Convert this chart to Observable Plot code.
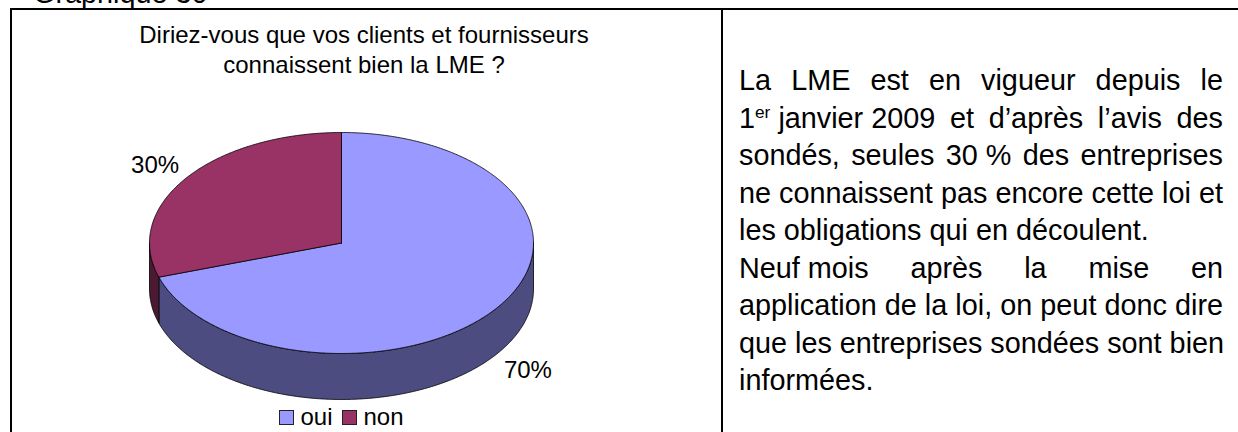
<!DOCTYPE html>
<html><head><meta charset="utf-8">
<script src="https://cdn.jsdelivr.net/npm/d3@7"></script>
<script src="https://cdn.jsdelivr.net/npm/@observablehq/plot@0.6"></script>
<style>
html,body{margin:0;padding:0;background:#fff;}
body{width:1238px;height:432px;overflow:hidden;position:relative;font-family:"Liberation Sans",Arial,sans-serif;color:#000;}
#chart{position:absolute;left:0;top:0;}
#chart svg{background:transparent;max-width:none;}
.frame{position:absolute;left:10px;top:8px;width:1300px;height:500px;border-left:2px solid #000;border-top:2px solid #000;}
.divider{position:absolute;left:721px;top:8px;width:2px;height:430px;background:#000;}
.heading{position:absolute;left:33px;top:-25px;font-size:28.8px;line-height:37.5px;white-space:nowrap;}
.title{position:absolute;left:64px;width:600px;top:20px;text-align:center;font-size:24px;line-height:30px;}
.legend{position:absolute;left:0;width:683px;top:405px;text-align:center;font-size:24px;line-height:24px;white-space:nowrap;}
.legend .item{display:inline-block;margin:0 5px;}
.legend .sw{display:inline-block;width:13px;height:13px;border:1px solid #222;margin-right:6px;vertical-align:baseline;}
.para{position:absolute;left:739px;width:484px;top:62px;font-size:28.8px;line-height:37.5px;}
.para .ln{white-space:nowrap;text-align:justify;text-align-last:justify;}
.para .ln.left{text-align:left;text-align-last:left;}
.para .nb{display:inline-block;}
.para sup{font-size:0.6em;line-height:0;vertical-align:0.6em;}
</style></head><body>
<div id="chart"></div>
<div class="frame"></div>
<div class="divider"></div>
<div class="heading" id="heading"></div>
<div class="title" id="title"></div>
<div class="legend" id="legend"></div>
<div class="para" id="para"></div>
<script>
const headingText = "Graphique 30";
const chartTitle = ["Diriez-vous que vos clients et fournisseurs", "connaissent bien la LME ?"];
const categories = ["oui", "non"];
const values = [70, 30];
const valueLabels = ["70%", "30%"];
const topColors = ["#9999FF", "#993366"];
const sideColors = ["#4C4C80", "#4C1933"];
const paragraphLines = [
  "La LME est en vigueur depuis le",
  "<span class='nb'>1<sup>er</sup>\u00a0janvier 2009</span> et d’après l’avis des",
  "sondés, seules <span class='nb'>30\u00a0%</span> des entreprises",
  "ne connaissent pas encore cette loi et",
  "les obligations qui en découlent.",
  "<span class='nb'>Neuf mois</span> après la mise en",
  "application de la loi, on peut donc dire",
  "que les entreprises sondées sont bien",
  "informées."
];
const lineJustified = [true, true, true, true, false, true, true, true, false];

document.getElementById("heading").textContent = headingText;
document.getElementById("title").innerHTML = chartTitle.join("<br>");

// pie geometry (unit ellipse, y grows downward; depth in y units)
const total = d3.sum(values);
const depth = 46 / 110.5;
let acc = 0;
const slices = values.map((v, i) => {
  const a0 = acc / total * 2 * Math.PI; acc += v;
  const a1 = acc / total * 2 * Math.PI;
  return {i, a0, a1};
});
const pt = (a, dz = 0) => ({x: Math.sin(a), y: -Math.cos(a) + dz});
function arc(a0, a1, dz) {
  const n = Math.max(2, Math.ceil((a1 - a0) / (Math.PI / 360)));
  return d3.range(n + 1).map(k => pt(a0 + (a1 - a0) * k / n, dz));
}
const marks = [];
for (const s of slices) {
  const s0 = Math.max(s.a0, Math.PI / 2), s1 = Math.min(s.a1, 3 * Math.PI / 2);
  if (s0 < s1) {
    const poly = arc(s0, s1, 0).concat(arc(s0, s1, depth).reverse());
    poly.push(poly[0]);
    marks.push(Plot.line(poly, {x: "x", y: "y", fill: sideColors[s.i], stroke: "#000", strokeWidth: 0.8, strokeLinejoin: "round"}));
  }
}
for (const s of slices) {
  const poly = [{x: 0, y: 0}, ...arc(s.a0, s.a1, 0), {x: 0, y: 0}];
  marks.push(Plot.line(poly, {x: "x", y: "y", fill: topColors[s.i], stroke: "#000", strokeWidth: 0.8, strokeLinejoin: "round"}));
}
const labelData = slices.map(s => {
  const m = (s.a0 + s.a1) / 2, r = 1.2;
  const c = -Math.cos(m);
  return {x: Math.sin(m) * r, y: c * r + (c > 0 ? depth * 1.08 : 0), label: valueLabels[s.i]};
});
marks.push(Plot.text(labelData, {x: "x", y: "y", text: "label", fontSize: 24, textAnchor: "middle", fill: "#000"}));

const svg = Plot.plot({
  width: 722, height: 432,
  x: {domain: [-1, 1], range: [149, 533], axis: null},
  y: {domain: [-1, 1], range: [132, 353], axis: null},
  style: {fontFamily: "'Liberation Sans', Arial, sans-serif", background: "transparent"},
  marks
});
document.getElementById("chart").appendChild(svg);

// legend
const leg = document.getElementById("legend");
categories.forEach((c, i) => {
  const it = document.createElement("span");
  it.className = "item";
  it.innerHTML = `<span class="sw" style="background:${topColors[i]}"></span>${c}`;
  leg.appendChild(it);
});

// paragraph
const para = document.getElementById("para");
paragraphLines.forEach((t, i) => {
  const d = document.createElement("div");
  d.className = "ln" + (lineJustified[i] ? "" : " left");
  d.innerHTML = t;
  para.appendChild(d);
});
</script>
</body></html>
